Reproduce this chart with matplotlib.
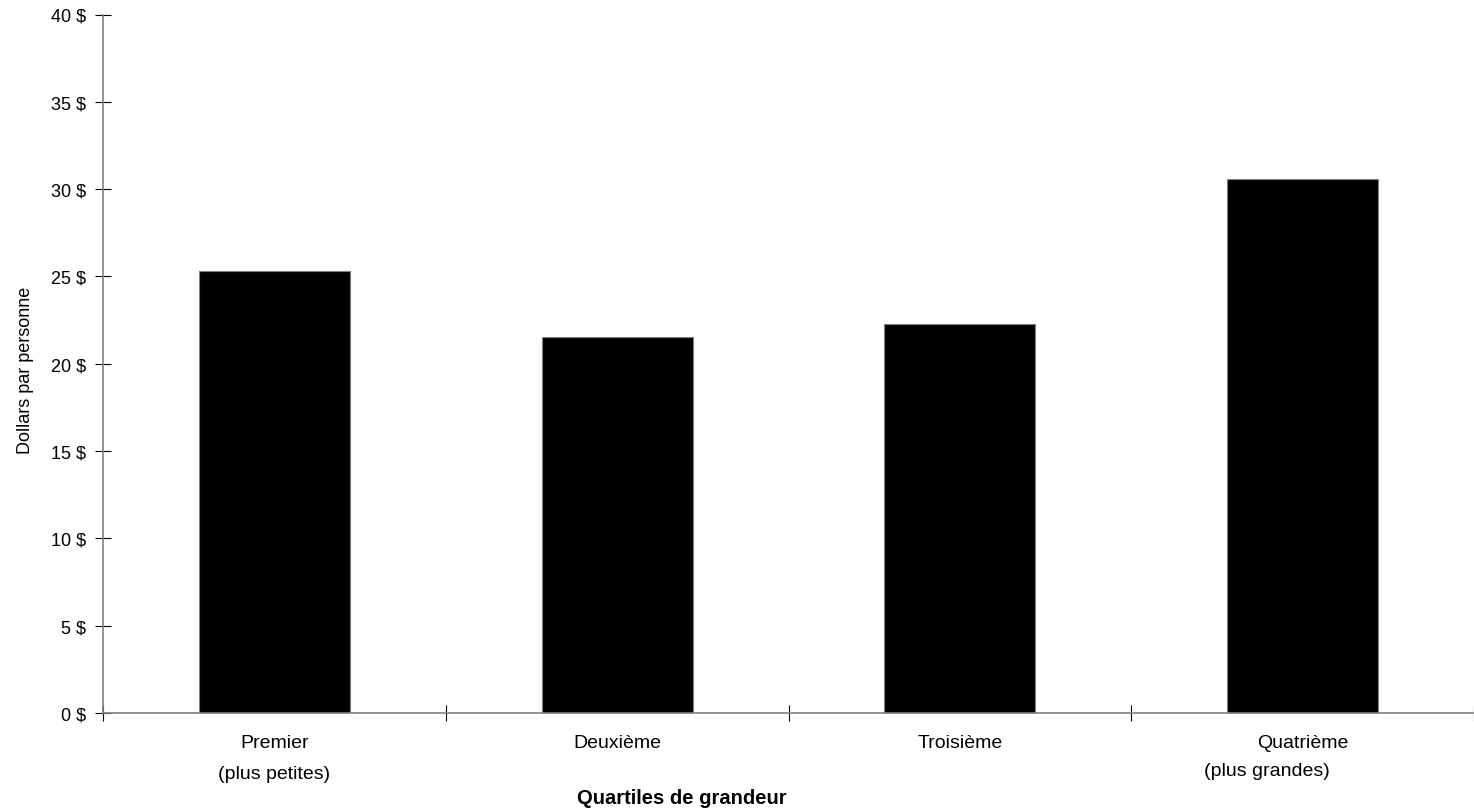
import matplotlib
matplotlib.use("Agg")
import matplotlib.pyplot as plt
import numpy as np

plt.rcParams['font.family'] = ['Liberation Sans', 'DejaVu Sans']

# Data
categories = ["Premier", "Deuxième", "Troisième", "Quatrième"]
sublabels = ["(plus petites)", "", "", "(plus grandes)"]
values = [25.3, 21.55, 22.3, 30.6]
yticks = [0, 5, 10, 15, 20, 25, 30, 35, 40]
ytick_labels = [f"{v} $" for v in yticks]

fig = plt.figure(figsize=(14.74, 8.12), dpi=100)
ax = fig.add_axes([103 / 1474, 98 / 812, 1371 / 1474, 698.5 / 812])

x = np.arange(len(categories))
ax.bar(x, values, width=0.44, color="black", edgecolor="#808080", linewidth=0.8, zorder=2)

ax.set_xlim(-0.5, -0.5 + 1371 / 344.5)
ax.set_ylim(0, 40)

ax.set_yticks(yticks)
ax.set_yticklabels(ytick_labels, fontsize=13)
ax.tick_params(axis="y", direction="inout", length=12, width=0.8, pad=6)

# tick marks at category boundaries, labels drawn as text below
ax.set_xticks([])
ax.set_xticks(np.arange(-0.5, 3.6, 1.0), minor=True)
ax.tick_params(axis="x", which="minor", direction="inout", length=12, width=0.8,
               labelbottom=False)

xt = ax.get_xaxis_transform()
for i, name in enumerate(categories):
    ax.text(i, -0.0487, name, fontsize=14, ha="center", va="baseline",
            transform=xt, clip_on=False)
# second line of the first and last category labels
ax.text(0, -0.0931, sublabels[0], fontsize=14, ha="center", va="baseline",
        transform=xt, clip_on=False)
ax.text(2.896, -0.0888, sublabels[3], fontsize=14, ha="center", va="baseline",
        transform=xt, clip_on=False)

for s in ["top", "right"]:
    ax.spines[s].set_visible(False)
for s in ["left", "bottom"]:
    ax.spines[s].set_color("#808080")
    ax.spines[s].set_linewidth(1.2)

fig.text(26 / 1474, 1 - 370 / 812, "Dollars par personne", fontsize=13,
         rotation=90, ha="center", va="center")
fig.text(682 / 1474, 1 - 804 / 812, "Quartiles de grandeur", fontsize=14.5,
         fontweight="bold", ha="center", va="baseline")

fig.savefig("out.png", dpi=100)
